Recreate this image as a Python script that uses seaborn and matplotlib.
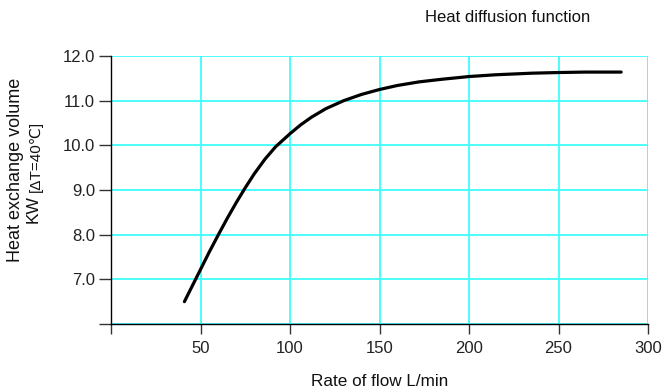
import matplotlib
matplotlib.use("Agg")
import matplotlib.pyplot as plt
import seaborn as sns
import pandas as pd

# data
flow = [41, 45, 50, 55, 60, 65, 70, 75, 80, 86, 92, 100, 106, 112, 120, 130, 140,
        150, 160, 172, 185, 200, 215, 235, 250, 265, 285]
heat = [6.5, 6.82, 7.22, 7.62, 8.0, 8.37, 8.72, 9.05, 9.36, 9.69, 9.97, 10.26, 10.46,
        10.63, 10.82, 11.0, 11.14, 11.25, 11.34, 11.42, 11.48, 11.54, 11.58, 11.615,
        11.63, 11.64, 11.64]

x_ticks = [0, 50, 100, 150, 200, 250, 300]
x_labels = ["", "50", "100", "150", "200", "250", "300"]
y_ticks = [6, 7, 8, 9, 10, 11, 12]
y_labels = ["", "7.0", "8.0", "9.0", "10.0", "11.0", "12.0"]

df = pd.DataFrame({"flow": flow, "heat": heat})

sns.set_style("white")
plt.rcParams["font.family"] = ["Liberation Sans", "DejaVu Sans"]

fig = plt.figure(figsize=(6.65, 3.9), dpi=100)
ax = fig.add_axes([111 / 665, 1 - 324 / 390, (648 - 111) / 665, (324 - 56) / 390])

sns.lineplot(data=df, x="flow", y="heat", ax=ax, color="black", linewidth=2.3)

ax.set_xlim(0, 300)
ax.set_ylim(6, 12)
ax.set_xticks(x_ticks)
ax.set_xticklabels(x_labels)
ax.set_yticks(y_ticks)
ax.set_yticklabels(y_labels)

ax.grid(True, color="#3ffcfc", linewidth=1.3)
ax.set_axisbelow(True)

for s in ["top", "right"]:
    ax.spines[s].set_visible(False)
for s in ["left", "bottom"]:
    ax.spines[s].set_color("black")
    ax.spines[s].set_linewidth(1.0)
    ax.spines[s].set_zorder(3)

ax.tick_params(axis="both", bottom=True, left=True, direction="out", width=1,
               color="#333333", labelcolor="#222222", labelsize=12)
ax.tick_params(axis="x", length=7.5, pad=5)
ax.tick_params(axis="y", length=8.5, pad=3)
ax.set_xlabel("")
ax.set_ylabel("")

fig.text(380 / 665, 1 - 381 / 390, "Rate of flow L/min", ha="center", va="center",
         fontsize=12.3, color="#111111")
fig.text(16 / 665, 1 - 170 / 390, "Heat exchange volume", ha="center", va="center",
         rotation=90, fontsize=13, color="#111111")
fig.text(33.5 / 665, 1 - 209 / 390, "KW", ha="center", va="center",
         rotation=90, fontsize=12.5, color="#111111")
fig.text(35.5 / 665, 1 - 156 / 390, "[ΔT=40℃]", ha="center", va="center",
         rotation=90, fontsize=11, color="#111111")
fig.text(508 / 665, 1 - 18 / 390, "Heat diffusion function", ha="center", va="center",
         fontsize=12, color="#111111")

fig.savefig("out.png", dpi=100)
